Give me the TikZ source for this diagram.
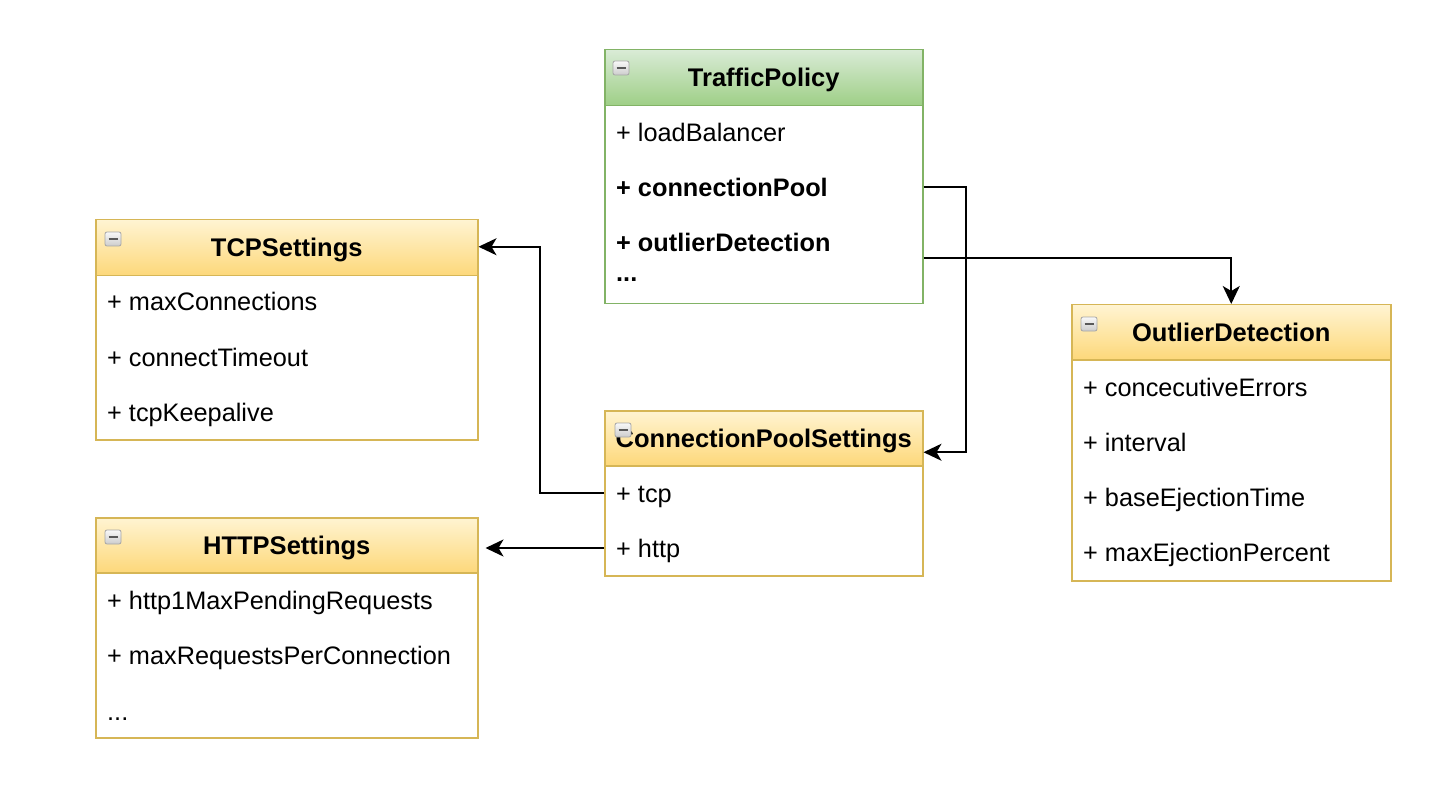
\documentclass[tikz,border=0pt]{standalone}
\usepackage{fontspec}
\setmainfont{Liberation Sans}
\usetikzlibrary{arrows.meta,calc}
\definecolor{ylwdraw}{HTML}{D6B656}
\definecolor{ylwtop}{HTML}{FFF4D2}
\definecolor{ylwbot}{HTML}{FDD87A}
\definecolor{grndraw}{HTML}{82B366}
\definecolor{grntop}{HTML}{D9EBD6}
\definecolor{grnbot}{HTML}{9ECF86}

\begin{document}
\begin{tikzpicture}[
        x=1pt, y=-1pt,
        every node/.append style={font=\fontsize{25.3}{30}\selectfont}
    ]
    \tikzstyle{cls}=[line width=1.5pt,fill=white,anchor=north west,inner sep=0pt];
    \tikzstyle{hd}=[line width=1.5pt,anchor=north west,inner sep=0pt,text height=18pt,text depth=0pt,font=\fontsize{25.5}{30}\selectfont\bfseries];
    \tikzstyle{ylw}=[draw=ylwdraw,top color=ylwtop,bottom color=ylwbot];
    \tikzstyle{grn}=[draw=grndraw,top color=grntop,bottom color=grnbot];
    \tikzstyle{fld}=[anchor=base west,inner sep=0pt];
    \tikzstyle{mn}=[draw=gray!70,line width=0.8pt,rounded corners=2pt,top color=gray!5,bottom color=gray!40,minimum width=16pt,minimum height=14pt,inner sep=0pt,path picture={\draw[line width=2.4pt,black!65] ([xshift=3.5pt]path picture bounding box.west) -- ([xshift=-3.5pt]path picture bounding box.east);}];
    \tikzstyle{lnk}=[line width=2pt,-{Stealth[length=18pt,width=17pt,inset=5pt]}];
    \fill[white] (0,0) rectangle (1448,802);
    \useasboundingbox (0,0) rectangle (1448,802);
    % traffic policy
    \begin{scope}[shift={(604,49)}]
        \node[cls,draw=grndraw,minimum width=318pt,minimum height=254pt] (tp) at (0,0) {};
        \node[hd,grn,minimum width=318pt,minimum height=56pt] (tph) at (0,0) {TrafficPolicy};
        \node[mn] (tpm) at (17,19) {};
        \node[fld] (tplb) at (12,93) {+ loadBalancer};
        \node[fld,font=\fontsize{25.3}{30}\selectfont\bfseries] (tpcp) at (12,148) {+ connectionPool};
        \node[fld,font=\fontsize{25.3}{30}\selectfont\bfseries] (tpod) at (12,203) {+ outlierDetection};
        \node[fld,font=\fontsize{25.3}{30}\selectfont\bfseries] (tpmore) at (12,233) {...};
    \end{scope}
    % tcp settings
    \begin{scope}[shift={(95,219)}]
        \node[cls,draw=ylwdraw,minimum width=382pt,minimum height=220pt] (tcp) at (0,0) {};
        \node[hd,ylw,minimum width=382pt,minimum height=56pt] (tcph) at (0,0) {TCPSettings};
        \node[mn] (tcpm) at (18,20) {};
        \node[fld] (tcpmc) at (12,92) {+ maxConnections};
        \node[fld] (tcpct) at (12,147) {+ connectTimeout};
        \node[fld] (tcpka) at (12,202) {+ tcpKeepalive};
    \end{scope}
    % connection pool settings
    \begin{scope}[shift={(604,410)}]
        \node[cls,draw=ylwdraw,minimum width=318pt,minimum height=165pt] (cps) at (0,0) {};
        \node[hd,ylw,minimum width=318pt,minimum height=55pt] (cpsh) at (0,0) {ConnectionPoolSettings};
        \node[mn] (cpsm) at (19,20) {};
        \node[fld] (cpstcp) at (12,92) {+ tcp};
        \node[fld] (cpshttp) at (12,147) {+ http};
    \end{scope}
    % http settings
    \begin{scope}[shift={(95,517)}]
        \node[cls,draw=ylwdraw,minimum width=382pt,minimum height=220pt] (http) at (0,0) {};
        \node[hd,ylw,minimum width=382pt,minimum height=55pt] (httph) at (0,0) {HTTPSettings};
        \node[mn] (httpm) at (18,20) {};
        \node[fld] (httppr) at (12,92) {+ http1MaxPendingRequests};
        \node[fld] (httprc) at (12,147) {+ maxRequestsPerConnection};
        \node[fld] (httpmore) at (12,203) {...};
    \end{scope}
    % outlier detection
    \begin{scope}[shift={(1071,304)}]
        \node[cls,draw=ylwdraw,minimum width=319pt,minimum height=276pt] (od) at (0,0) {};
        \node[hd,ylw,minimum width=319pt,minimum height=55pt] (odh) at (0,0) {OutlierDetection};
        \node[mn] (odm) at (18,20) {};
        \node[fld] (odce) at (12,92) {+ concecutiveErrors};
        \node[fld] (odiv) at (12,147) {+ interval};
        \node[fld] (odbt) at (12,202) {+ baseEjectionTime};
        \node[fld] (odmp) at (12,257) {+ maxEjectionPercent};
    \end{scope}
    % links
    \draw[lnk] ($(tp.east |- tpcp.base)+(0,-10)$) -- ++(42,0) |- ($(cpsh.east)+(0,14)$);
    \draw[lnk] ($(tp.east |- tpod.base)+(0,6)$) -| (od.north);
    \draw[lnk] ($(cps.west |- cpstcp.base)+(0,-9)$) -- ++(-64,0) |- ($(tcph.east)+(0,-1)$);
    \draw[lnk,shorten >=7pt] ($(cps.west |- cpshttp.base)+(0,-9)$) -- ($(httph.east |- cpshttp.base)+(0,-9)$);
\end{tikzpicture}
\end{document}
